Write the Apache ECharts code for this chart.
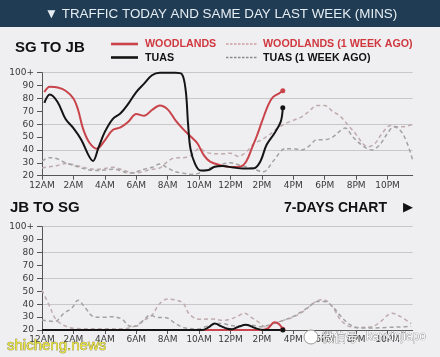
<!DOCTYPE html>
<html><head><meta charset="utf-8">
<script src="https://cdn.jsdelivr.net/npm/echarts@6/dist/echarts.min.js"></script>
<style>html,body{margin:0;padding:0;background:#efeef0;}#c{width:440px;height:357px;}</style>
</head><body><div id="c"></div>
<script>
// tick labels
const hourLabels = ['12AM','2AM','4AM','6AM','8AM','10AM','12PM','2PM','4PM','6PM','8PM','10PM'];
const yLabels = ['20','30','40','50','60','70','80','90','100+'];
const seriesNames = ['WOODLANDS','TUAS','WOODLANDS (1 WEEK AGO)','TUAS (1 WEEK AGO)'];

// SG TO JB  [hour, minutes]
const woodSgJb = [[0.15,85],[0.5,89],[1,88.5],[1.5,86],[2,80],[2.3,71],[2.6,57],[3,46],[3.5,41],[4,47.5],[4.5,55.5],[5,57.5],[5.5,62],[6,68],[6.5,66.5],[7,71],[7.5,74.5],[8,71.5],[8.5,63],[9,56],[9.5,50],[9.9,45],[10.3,36],[10.7,31],[11.3,28.3],[12,26.8],[12.6,27],[13,31],[13.35,41],[13.7,51.6],[14,62],[14.4,74.8],[14.7,81],[15.1,84],[15.33,86]];
const tuasSgJb = [[0.15,76.5],[0.5,83],[1,77],[1.5,64],[2,57],[2.5,48],[3,35],[3.25,31.5],[3.6,42],[4,54],[4.5,64],[5,68.5],[5.5,76],[6,85],[6.5,91.5],[7,98],[7.5,100],[8,100],[8.5,100],[8.9,99],[9.15,86],[9.3,60],[9.45,41],[9.75,29],[10.1,24],[10.6,24.5],[11,27],[11.5,27.5],[12.2,26.3],[12.8,25.6],[13.5,25.8],[13.9,31],[14.3,44],[14.8,53],[15.2,62],[15.33,72.8]];
const woodAgoSgJb = [[0,26],[0.5,27],[1,28],[1.5,29.5],[2,28.5],[2.5,27],[3,25.5],[3.5,25],[4,25.5],[4.5,26.5],[5,25],[5.5,23],[6,22],[6.5,23.5],[7,25],[7.5,26],[8,31],[8.5,34],[9,34],[9.5,36],[10,41],[10.5,38],[11,37],[11.5,37],[12,37.5],[12.5,35],[13,38.5],[13.5,45],[14,48],[14.5,52],[15,57],[15.5,60.5],[16,63],[16.5,65.5],[17,70],[17.5,74.5],[18,74.5],[18.5,70],[19,66],[19.5,59],[20,52],[20.5,44],[20.8,42.5],[21.2,45],[21.6,52],[22.2,59],[22.6,58],[23,58],[23.6,60]];
const tuasAgoSgJb = [[0,31.5],[0.5,34],[1,33],[1.5,30],[2,28],[2.5,26],[3,24.5],[3.5,24],[4,24.5],[4.5,25],[5,24],[5.5,22],[6,23],[6.5,25],[7,26.5],[7.5,29],[8,26],[8.5,23],[9,22],[9.5,21],[10,22],[10.5,25],[11,27],[11.5,29],[12,30],[12.5,28.5],[13,27],[13.5,25],[14.1,23],[14.7,31],[15.5,41],[16,41],[16.5,40],[17,43],[17.5,48],[18,48],[18.5,50],[19,55],[19.3,57],[19.8,50],[20.5,42.5],[21,40],[21.5,44],[22,53],[22.4,58],[23,52],[23.6,32]];

// JB TO SG
const woodJbSg = [[0,20],[14,20],[14.4,21.5],[14.8,26],[15.1,24.5],[15.33,20.5]];
const tuasJbSg = [[0,20],[10.2,20],[10.6,22],[11,25],[11.4,23],[11.8,21],[12.1,20.6],[12.5,22.5],[13,24],[13.6,21.3],[14.1,20],[15.33,20]];
const woodAgoJbSg = [[0,51],[0.5,38],[0.9,28],[1.5,23],[2,21.3],[3,21],[4,21],[5,21],[5.8,22.5],[6.5,27.5],[7,31.5],[7.5,40.5],[8,44],[8.6,43],[9,40.5],[9.4,32],[10,28.3],[10.9,28.5],[11.5,27.5],[12,28.5],[12.5,31],[12.9,33],[13.3,30],[13.8,26],[14.2,22.5],[14.8,25],[15.5,28],[16,30],[16.7,35],[17.3,41],[17.8,43.5],[18.2,42],[18.6,36],[19,28],[19.5,23],[20,22],[21,22.5],[21.5,26],[22.3,33],[22.8,30.5],[23.5,25]];
const tuasAgoJbSg = [[0,27.7],[0.8,26.5],[1.4,33],[1.9,37],[2.3,43],[2.7,38],[3.3,30.3],[3.9,29.8],[4.5,30.3],[5.1,28.3],[5.6,23],[6,23],[6.5,28],[6.9,31.6],[7.3,29.8],[7.9,29.5],[8.5,25],[9,22],[9.9,20.8],[10.5,23],[11.1,25],[11.5,25],[12,23.5],[12.5,23],[13,24],[13.5,23.5],[14,22.5],[14.5,24],[15,26],[15.5,28],[16,30.5],[16.5,34],[17,38],[17.5,42],[18,42],[18.5,38],[19,31],[19.5,25],[20,22],[21,21.5],[22,22],[23,22.5],[23.5,23]];

const RED = '#c8434a', BLACK = '#141414', WAGO = '#c0acae', TAGO = '#a2a2a2';
const chart = echarts.init(document.getElementById('c'));

function xAx(i){ return {type:'value', gridIndex:i, min:0, max:23.6, interval:2,
  axisLine:{lineStyle:{color:'#555',width:1}}, axisTick:{length:4,lineStyle:{color:'#555'}},
  splitLine:{show:false},
  axisLabel:{showMaxLabel:false, margin:5, fontFamily:'DejaVu Sans', fontSize:9, color:'#3a3a3a',
    formatter:v => (v%2===0 && hourLabels[v/2]) ? hourLabels[v/2] : ''}}; }
function yAx(i){ return {type:'value', gridIndex:i, min:20, max:100, interval:10,
  axisLine:{show:true,lineStyle:{color:'#555',width:1}}, axisTick:{show:true,length:5,lineStyle:{color:'#555'}},
  splitLine:{show:false},
  axisLabel:{margin:8, fontFamily:'DejaVu Sans', fontSize:9, color:'#3a3a3a', formatter:v => yLabels[Math.round((v-20)/10)]}}; }
function yGrid(i){ return {type:'value', gridIndex:i, min:20, max:100, interval:20, position:'left',
  axisLine:{show:false}, axisTick:{show:false}, axisLabel:{show:false},
  splitLine:{show:true,lineStyle:{color:'#c8c8ca',width:1}}}; }

function lastSym(len){ return (v,p) => p.dataIndex === len-1 ? 'circle' : 'none'; }
function mk(name, data, gi, color, dashed){
  return {name, type:'line', xAxisIndex:gi, yAxisIndex:gi*2, data, smooth:0.35, clip:false,
    symbol: dashed ? 'none' : lastSym(data.length), symbolSize:5, showSymbol:!dashed,
    itemStyle:{color}, lineStyle: dashed ? {color, width:1.5, type:[4,3]} : {color, width:2},
    emphasis:{disabled:true}, silent:true, z: dashed?2:3};
}

const F = '"Liberation Sans", Arial, sans-serif';
const graphic = [
  {type:'rect', shape:{x:0,y:0,width:440,height:27}, style:{fill:'#1f3c54'}},
  {type:'text', style:{text:'▼ TRAFFIC TODAY AND SAME DAY LAST WEEK (MINS)', x:221, y:14, textAlign:'center', textVerticalAlign:'middle', font:'13.4px '+F, fill:'#e6edf2'}},
  {type:'text', style:{text:'SG TO JB', x:15, y:48, textVerticalAlign:'middle', font:'bold 15px '+F, fill:'#111'}},
  {type:'text', style:{text:'JB TO SG', x:10, y:208, textVerticalAlign:'middle', font:'bold 15px '+F, fill:'#111'}},
  {type:'text', style:{text:'7-DAYS CHART', x:387, y:208, textAlign:'right', textVerticalAlign:'middle', font:'bold 14px '+F, fill:'#111'}},
  {type:'text', style:{text:'▶', x:413, y:208, textAlign:'right', textVerticalAlign:'middle', font:'13px "DejaVu Sans"', fill:'#111'}},
  // legend
  {type:'line', shape:{x1:111,y1:44,x2:138,y2:44}, style:{stroke:RED,lineWidth:2.6}},
  {type:'text', style:{text:seriesNames[0], x:145, y:44.5, textVerticalAlign:'middle', font:'bold 10.7px '+F, fill:'#d0383f'}},
  {type:'line', shape:{x1:111,y1:57.5,x2:138,y2:57.5}, style:{stroke:BLACK,lineWidth:2.6}},
  {type:'text', style:{text:seriesNames[1], x:145, y:58, textVerticalAlign:'middle', font:'bold 10.7px '+F, fill:'#111'}},
  {type:'line', shape:{x1:226,y1:44,x2:258,y2:44}, style:{stroke:'#cf9ea3',lineWidth:1.6,lineDash:[2.5,1.5]}},
  {type:'text', style:{text:seriesNames[2], x:263, y:44.5, textVerticalAlign:'middle', font:'bold 10.7px '+F, fill:'#d0383f'}},
  {type:'line', shape:{x1:226,y1:57.5,x2:258,y2:57.5}, style:{stroke:'#8a8a8a',lineWidth:1.6,lineDash:[2.5,1.5]}},
  {type:'text', style:{text:seriesNames[3], x:263, y:58, textVerticalAlign:'middle', font:'bold 10.7px '+F, fill:'#111'}},
  // watermarks
  {type:'text', z:100, style:{text:'shicheng.news', x:7, y:346, textVerticalAlign:'middle', font:'15px '+F, fill:'#e9e33c', stroke:'#6d6a2a', lineWidth:0.6}},
  {type:'circle', z:100, shape:{cx:311,cy:337,r:7}, style:{fill:'#ffffff', stroke:'#9a9a9a', lineWidth:1}},
  {type:'text', z:100, style:{text:'微信号', x:322, y:337, textVerticalAlign:'middle', font:'12px "Noto Sans CJK SC"', fill:'#ffffff', stroke:'#7a7a7a', lineWidth:0.7}},
  {type:'text', z:100, style:{text:'kanxinjiapo', x:366, y:337, textVerticalAlign:'middle', font:'12px '+F, fill:'#ffffff', stroke:'#7a7a7a', lineWidth:0.7}}
];

chart.setOption({
  animation:false,
  backgroundColor:'#efeef0',
  grid:[{left:42,right:27.3,top:72.7,height:103},{left:42,right:27.3,top:226.7,height:103.3}],
  xAxis:[xAx(0),xAx(1)],
  yAxis:[yAx(0),yGrid(0),yAx(1),yGrid(1)],
  graphic,
  series:[
    mk(seriesNames[2], woodAgoSgJb, 0, WAGO, true),
    mk(seriesNames[3], tuasAgoSgJb, 0, TAGO, true),
    mk(seriesNames[0], woodSgJb, 0, RED, false),
    mk(seriesNames[1], tuasSgJb, 0, BLACK, false),
    mk(seriesNames[2], woodAgoJbSg, 1, WAGO, true),
    mk(seriesNames[3], tuasAgoJbSg, 1, TAGO, true),
    mk(seriesNames[0], woodJbSg, 1, RED, false),
    mk(seriesNames[1], tuasJbSg, 1, BLACK, false)
  ]
});
</script></body></html>
